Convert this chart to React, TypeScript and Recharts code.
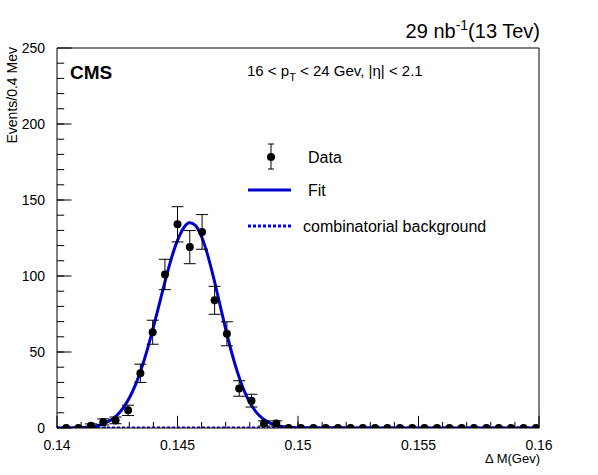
import { ComposedChart, Scatter, Line, XAxis, YAxis, ErrorBar, ReferenceLine } from "recharts";

const binX = [
  0.14038, 0.14089, 0.14141, 0.14192, 0.14243, 0.14295, 0.14346, 0.14397, 0.14448, 0.145, 0.14551, 0.14602, 0.14654,
  0.14705, 0.14756, 0.14807, 0.14859, 0.1491, 0.14961, 0.15012, 0.15064, 0.15115, 0.15166, 0.15218, 0.15269, 0.1532,
  0.15371, 0.15423, 0.15474, 0.15525, 0.15577, 0.15628, 0.15679, 0.1573, 0.15782, 0.15833, 0.15884, 0.15936, 0.15987,
];
const counts = [
  0, 0, 1.5, 4, 5, 11.6, 36, 63, 101, 134, 119, 129, 84, 62, 26, 18, 3, 3, 0, 0, 0, 0, 0, 0, 0, 0, 0, 0, 0, 0, 0, 0, 0, 0,
  0, 0, 0, 0, 0,
];
const countErr = [
  0, 0, 1.2, 2, 2.2, 3.4, 6, 7.9, 10, 11.6, 10.9, 11.4, 9.2, 7.9, 5.1, 4.2, 1.7, 1.7, 0, 0, 0, 0, 0, 0, 0, 0, 0, 0, 0, 0,
  0, 0, 0, 0, 0, 0, 0, 0, 0,
];

const fitX = [
  0.14, 0.141, 0.1415, 0.142, 0.1425, 0.1428, 0.143, 0.14325, 0.1435, 0.14375, 0.144, 0.14425, 0.1445, 0.14475, 0.145,
  0.14525, 0.1455, 0.14575, 0.146, 0.14625, 0.1465, 0.14675, 0.147, 0.14725, 0.1475, 0.14775, 0.148, 0.14825, 0.1485,
  0.149, 0.1495, 0.15, 0.16,
];
const fitY = [
  0, 0.3, 1, 3.2, 8.6, 14.4, 19.7, 28.2, 38.9, 51.7, 66.3, 81.9, 97.4, 111.8, 123.4, 131.5, 135, 133.1, 125.8, 113.9,
  98.7, 81.9, 65, 49.5, 36.1, 25.1, 16.8, 10.8, 6.6, 2.2, 0.6, 0.1, 0,
];
const bgX = [0.14, 0.16];
const bgY = [0, 0];

const xTicks = [0.14, 0.145, 0.15, 0.155, 0.16];
const xTickLabels = ["0.14", "0.145", "0.15", "0.155", "0.16"];
const yTicks = [0, 50, 100, 150, 200, 250];

const points = binX.map((x, i) => ({ x, y: counts[i], err: countErr[i] }));
const fit = fitX.map((x, i) => ({ x, fit: fitY[i] }));
const bg = bgX.map((x, i) => ({ x, bg: bgY[i] }));

// inward tick marks, in data units
const xMinor: number[] = [];
for (let i = 1; i < 20; i++) xMinor.push(+(0.14 + i * 0.001).toFixed(3));
const yMinor: number[] = [];
for (let i = 1; i < 25; i++) yMinor.push(i * 10);

const FONT = "Liberation Sans, Arial, sans-serif";

export default function App() {
  return (
    <div style={{ position: "absolute", left: 0, top: 0, background: "#fff" }}>
      <svg width={598} height={475} style={{ position: "absolute", left: 0, top: 0, pointerEvents: "none", zIndex: 2 }}>
        <g fontFamily={FONT} fill="#000">
          <text x={540} y={38} textAnchor="end" fontSize={20}>
            29 nb<tspan dy={-8} fontSize={14}>-1</tspan>
            <tspan dy={8}>(13 Tev)</tspan>
          </text>
          <text x={70} y={79} fontSize={19} fontWeight="bold">CMS</text>
          <text x={247} y={76} fontSize={15}>
            16 {"<"} p<tspan dy={5} fontSize={11}>T</tspan>
            <tspan dy={-5}> {"<"} 24 Gev, |η| {"<"} 2.1</tspan>
          </text>
          <line x1={271} x2={271} y1={144} y2={169} stroke="#000" />
          <line x1={268} x2={274} y1={144} y2={144} stroke="#000" />
          <line x1={268} x2={274} y1={169} y2={169} stroke="#000" />
          <circle cx={271} cy={157} r={4} />
          <text x={308} y={163} fontSize={16}>Data</text>
          <line x1={248} x2={291} y1={190} y2={190} stroke="#0000cc" strokeWidth={3} />
          <text x={308} y={196} fontSize={16}>Fit</text>
          <line x1={248} x2={291} y1={226} y2={226} stroke="#0000ff" strokeWidth={3} strokeDasharray="3 2" />
          <text x={303} y={232} fontSize={16}>combinatorial background</text>
          <text x={540} y={463} textAnchor="end" fontSize={13}>Δ M(Gev)</text>
          <text x={0} y={0} transform="translate(17,47) rotate(-90)" textAnchor="end" fontSize={14}>Events/0.4 Mev</text>
        </g>
      </svg>
      <ComposedChart width={598} height={475} margin={{ top: 47, right: 58, bottom: 46, left: 56 }}>
        <XAxis xAxisId="main" type="number" dataKey="x" domain={[0.14, 0.16]} ticks={xTicks} tickFormatter={(v: number) => xTickLabels[xTicks.indexOf(v)] ?? String(v)} tick={{ fill: "#000", fontSize: 14, fontFamily: FONT }} tickLine={false} tickMargin={6} stroke="#000" allowDataOverflow height={1} interval={0} />
        <XAxis xAxisId="top" orientation="top" type="number" dataKey="x" domain={[0.14, 0.16]} tick={false} tickLine={false} stroke="#000" height={1} />
        <YAxis yAxisId="main" type="number" domain={[0, 250]} ticks={yTicks} tick={{ fill: "#000", fontSize: 14, fontFamily: FONT }} tickLine={false} tickMargin={6} stroke="#000" width={1} interval={0} allowDataOverflow />
        <YAxis yAxisId="right" orientation="right" type="number" domain={[0, 250]} tick={false} tickLine={false} stroke="#000" width={1} />
        {xTicks.map((t) => (
          <ReferenceLine key={"xM" + t} xAxisId="main" yAxisId="main" segment={[{ x: t, y: 0 }, { x: t, y: 8 }]} stroke="#000" ifOverflow="visible" />
        ))}
        {xMinor.map((t) => (
          <ReferenceLine key={"xm" + t} xAxisId="main" yAxisId="main" segment={[{ x: t, y: 0 }, { x: t, y: 4 }]} stroke="#000" ifOverflow="visible" />
        ))}
        {yTicks.map((t) => (
          <ReferenceLine key={"yM" + t} xAxisId="main" yAxisId="main" segment={[{ x: 0.14, y: t }, { x: 0.1406, y: t }]} stroke="#000" ifOverflow="visible" />
        ))}
        {yMinor.map((t) => (
          <ReferenceLine key={"ym" + t} xAxisId="main" yAxisId="main" segment={[{ x: 0.14, y: t }, { x: 0.1403, y: t }]} stroke="#000" ifOverflow="visible" />
        ))}
        <Line xAxisId="main" yAxisId="main" data={bg} dataKey="bg" type="linear" stroke="#0000ff" strokeWidth={3} strokeDasharray="3 2" dot={false} isAnimationActive={false} />
        <Line xAxisId="main" yAxisId="main" data={fit} dataKey="fit" type="monotone" stroke="#0000cc" strokeWidth={3} dot={false} isAnimationActive={false} />
        <Scatter xAxisId="main" yAxisId="main" data={points} dataKey="y" fill="#000" isAnimationActive={false}
          shape={(p: any) => <circle cx={p.cx} cy={p.cy} r={4} fill="#000" />}>
          <ErrorBar dataKey="err" direction="y" width={6} stroke="#000" strokeWidth={1} />
        </Scatter>
      </ComposedChart>
    </div>
  );
}
